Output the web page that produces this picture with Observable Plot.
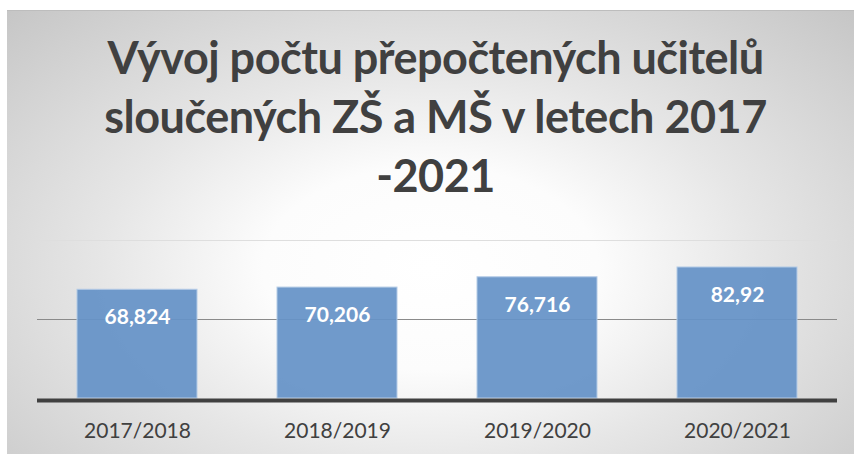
<!DOCTYPE html>
<html>
<head>
<meta charset="utf-8">
<script src="https://cdn.jsdelivr.net/npm/d3@7"></script>
<script src="https://cdn.jsdelivr.net/npm/@observablehq/plot@0.6"></script>
<style>
  html, body { margin: 0; padding: 0; background: #ffffff; }
  #chart {
    position: absolute; left: 7px; top: 10px; width: 847px; height: 444px;
    background: radial-gradient(ellipse farthest-corner at 50% 58%, #ffffff 0%, #fcfcfc 28%, #e6e6e6 55%, #c6c6c6 100%);
    border-top: 1px solid #bdbdbd; box-sizing: border-box; overflow: hidden;
  }
  #title {
    margin-top: 17px; height: 177px;
    font-family: Lato, "Open Sans", sans-serif; font-weight: 700; font-size: 45px;
    line-height: 59px; color: #404040; text-align: center; letter-spacing: -0.5px;
    padding-left: 10px;
  }
  #plot svg { display: block; }
</style>
</head>
<body>
<div id="chart">
  <div id="title">Vývoj počtu přepočtených učitelů<br>sloučených ZŠ a MŠ v letech 2017<br>-2021</div>
  <div id="plot"></div>
</div>
<script>
const years = ["2017/2018", "2018/2019", "2019/2020", "2020/2021"];
const values = [68.824, 70.206, 76.716, 82.92];
const gridValues = [50, 100];

const data = years.map((y, i) => ({year: y, value: values[i], label: String(values[i]).replace(".", ",")}));

const chart = Plot.plot({
  width: 847,
  height: 248,
  marginTop: 35,
  marginBottom: 55,
  marginLeft: 30,
  marginRight: 17,
  style: {fontFamily: "Lato, 'Open Sans', sans-serif", fontSize: "21px", color: "#404040", background: "transparent", overflow: "visible"},
  x: {domain: years, paddingInner: 0.4, paddingOuter: 0.2, label: null},
  y: {domain: [0, 100], axis: null},
  marks: [
    Plot.ruleY([gridValues[1]], {stroke: "#dedede", strokeWidth: 1}),
    Plot.ruleY([gridValues[0]], {stroke: "#8a8a8a", strokeWidth: 1}),
    Plot.barY(data, {x: "year", y: "value", fill: "#6592c7", fillOpacity: 0.93, stroke: "#b4cbe6", strokeWidth: 1, inset: 0}),
    Plot.text(data, {x: "year", y: "value", text: "label", dy: 28, fill: "white", fontWeight: "bold", fontSize: 21}),
    Plot.ruleY([0], {stroke: "#404040", strokeWidth: 4, dy: 2}),
    Plot.axisX({tickSize: 0, tickPadding: 25, fontSize: 21, fill: "#404040", label: null})
  ]
});
document.getElementById("plot").appendChild(chart);
</script>
</body>
</html>
